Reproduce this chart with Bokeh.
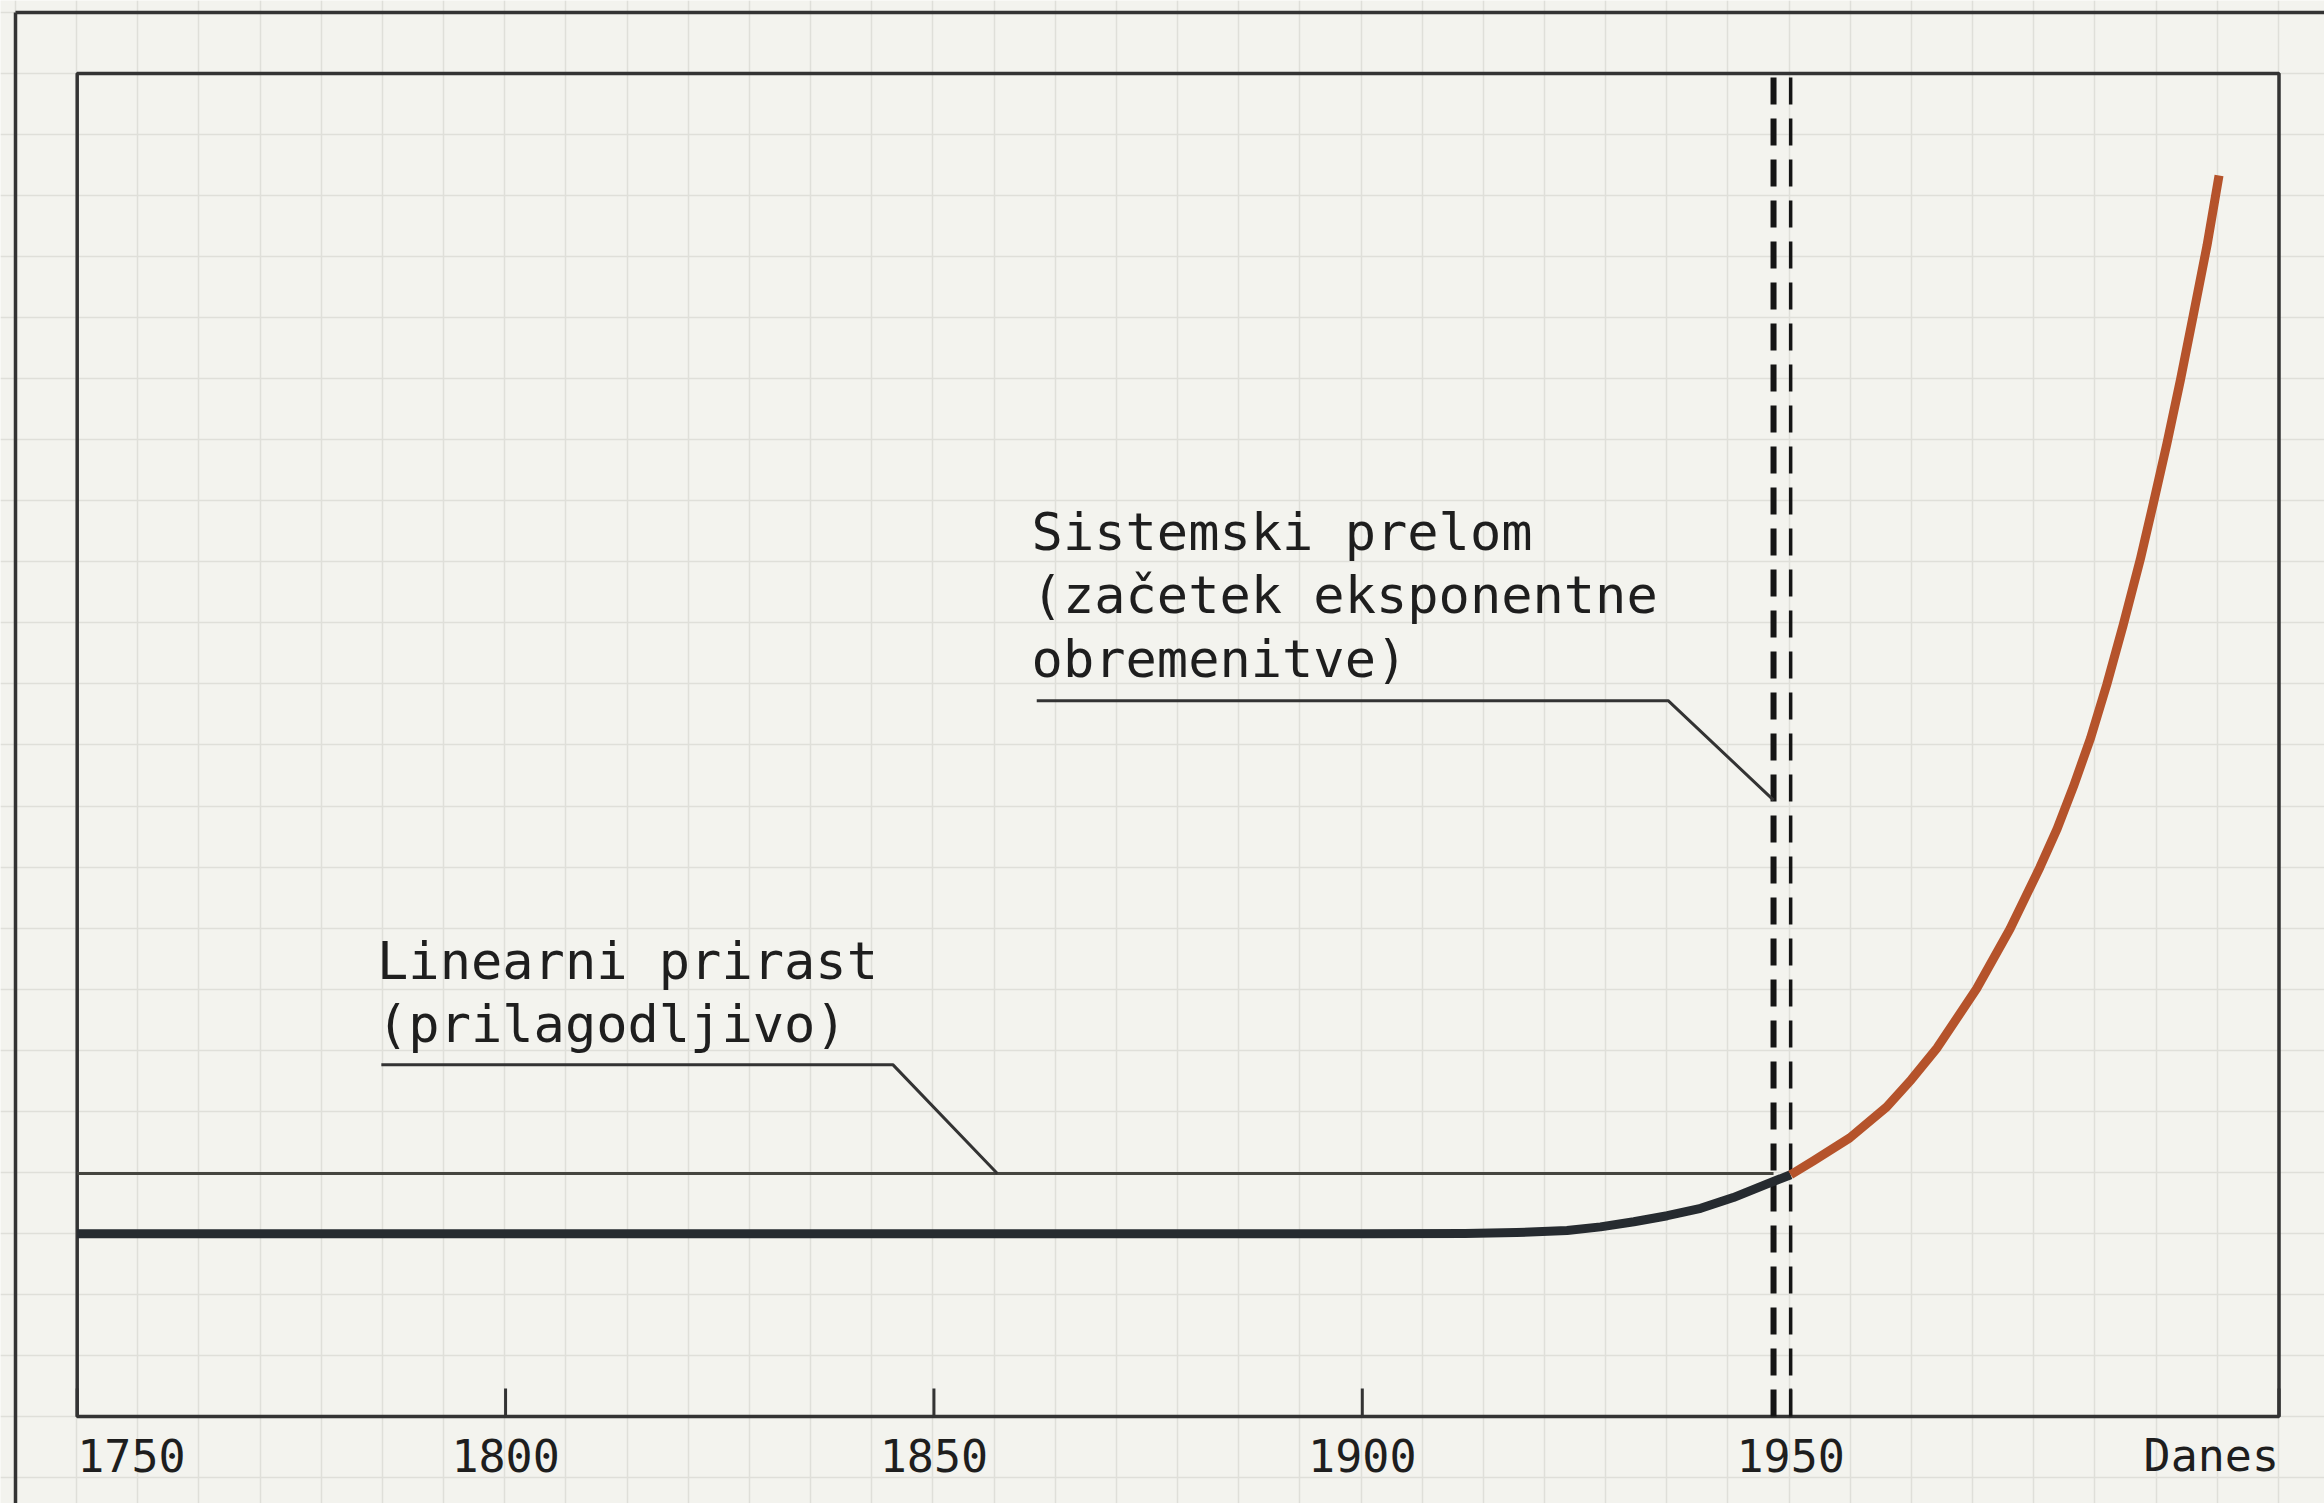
from bokeh.plotting import figure
from bokeh.models import Range1d, Grid, SingleIntervalTicker
from bokeh.embed import file_html
from bokeh.resources import INLINE
from bokeh.core.properties import value

# ---------------- data ----------------
tick_years = [1750, 1800, 1850, 1900, 1950, 2007]
tick_labels = ["1750", "1800", "1850", "1900", "1950", "Danes"]

linear_years = [1750, 1800, 1850, 1900, 1912.0, 1918.0, 1923.9, 1927.8, 1931.7,
                1935.6, 1939.5, 1943.3, 1947.2, 1950.0]
linear_values = [13.6, 13.6, 13.6, 13.6, 13.62, 13.7, 13.85, 14.12, 14.5,
                 14.95, 15.5, 16.3, 17.3, 18.0]

exp_years = [1950.0, 1952.7, 1956.9, 1961.2, 1964.1, 1967.1, 1971.7, 1975.6,
             1979.1, 1981.1, 1983.0, 1985.0, 1986.9, 1988.8, 1990.8, 1992.3,
             1993.9, 1995.5, 1997.0, 1998.6, 2000.0]
exp_values = [18.0, 19.05, 20.75, 23.05, 25.1, 27.45, 31.85, 36.3,
              40.9, 43.75, 46.9, 50.5, 54.5, 58.9, 63.8, 67.9,
              72.4, 77.2, 82.0, 87.2, 92.4]

reference_level = 18.1          # thin horizontal level line
break_years = [1948, 1950]      # thick / thin dashed markers

annot1_lines = ["Linearni prirast", "(prilagodljivo)"]
annot1_x = 1785.0
annot1_y = [33.95, 29.25]
annot1_leader_x = [1785.5, 1845.2, 1857.4]
annot1_leader_y = [26.2, 26.2, 18.1]

annot2_lines = ["Sistemski prelom", "(začetek eksponentne", "obremenitve)"]
annot2_x = 1861.4
annot2_y = [65.85, 61.15, 56.4]
annot2_leader_x = [1862.0, 1935.7, 1948.0]
annot2_leader_y = [53.3, 53.3, 45.9]

y_min, y_max = 0, 100
tick_label_y = -2.9

# ---------------- layout / style ----------------
W, H = 2324, 1503
FRAME_L, FRAME_R = 76.7, 2278.5
FRAME_T, FRAME_B = 73, 1416
X0, X1 = tick_years[0], tick_years[-1]
sx = (FRAME_R - FRAME_L) / (X1 - X0)
sy = (FRAME_B - FRAME_T) / (y_max - y_min)
TICK_LEN = 28 / sy

BG = "#f3f3ee"
GRID = "#dfdfd9"
FRAME = "#333333"
DARK = "#262b30"
ORANGE = "#b5532b"
TEXT = "#1e1e1e"
FONT = value("DejaVu Sans Mono")

p = figure(width=W, height=H,
           x_range=Range1d(X0 - FRAME_L / sx, X1 + (W - FRAME_R) / sx),
           y_range=Range1d(y_min - (H - FRAME_B) / sy, y_max + FRAME_T / sy),
           x_axis_type=None, y_axis_type=None,
           output_backend="svg", toolbar_location=None, min_border=0)
p.background_fill_color = BG
p.border_fill_color = BG
p.outline_line_color = None

# background paper grid (screen-pixel ranges)
CELL_X, CELL_Y = 61.16, 61.04
OUT_L, OUT_T = 15, 12
NY = 25
p.extra_x_ranges = {"px": Range1d(-OUT_L, W - OUT_L)}
p.extra_y_ranges = {"py": Range1d(NY * CELL_Y + OUT_T - H, NY * CELL_Y + OUT_T)}
for dim in (0, 1):
    g = Grid(dimension=dim,
             ticker=SingleIntervalTicker(interval=CELL_X if dim == 0 else CELL_Y, num_minor_ticks=0),
             x_range_name="px", y_range_name="py",
             grid_line_color=GRID, grid_line_width=1.5)
    p.add_layout(g)

# outer page frame (left and top edges)
p.segment(x0=[0, 0], y0=[NY * CELL_Y - H, NY * CELL_Y], x1=[0, W], y1=[NY * CELL_Y, NY * CELL_Y],
          x_range_name="px", y_range_name="py", line_color=FRAME, line_width=3.5)

# inner chart frame
p.quad(left=[X0], right=[X1], bottom=[y_min], top=[y_max],
       fill_color=None, line_color=FRAME, line_width=3.5)

# inward ticks on the time axis
p.segment(x0=tick_years, y0=[y_min] * len(tick_years), x1=tick_years,
          y1=[y_min + TICK_LEN] * len(tick_years), line_color=FRAME, line_width=3)

# tick labels
p.text(x=[tick_years[0]], y=[tick_label_y], text=[tick_labels[0]], text_font=FONT,
       text_font_size="45px", text_align="left", text_baseline="alphabetic", text_color=TEXT)
p.text(x=tick_years[1:-1], y=[tick_label_y] * (len(tick_years) - 2), text=tick_labels[1:-1],
       text_font=FONT, text_font_size="45px", text_align="center",
       text_baseline="alphabetic", text_color=TEXT)
p.text(x=[tick_years[-1]], y=[tick_label_y], text=[tick_labels[-1]], text_font=FONT,
       text_font_size="45px", text_align="right", text_baseline="alphabetic", text_color=TEXT)

# reference level line
p.line(x=[X0, break_years[0]], y=[reference_level, reference_level],
       line_color="#45453f", line_width=3)

# dashed break markers
p.segment(x0=[break_years[0]], y0=[y_min], x1=[break_years[0]], y1=[y_max],
          line_color="#151515", line_width=6, line_dash="27 14")
p.segment(x0=[break_years[1]], y0=[y_min], x1=[break_years[1]], y1=[y_max],
          line_color="#151515", line_width=3.5, line_dash="27 14")

# curves
p.line(x=linear_years, y=linear_values, line_color=DARK, line_width=9, line_join="round")
p.line(x=exp_years, y=exp_values, line_color=ORANGE, line_width=9, line_join="round")

# annotations
p.line(x=annot1_leader_x, y=annot1_leader_y, line_color="#333333", line_width=3)
p.line(x=annot2_leader_x, y=annot2_leader_y, line_color="#333333", line_width=3)
p.text(x=[annot1_x] * len(annot1_lines), y=annot1_y, text=annot1_lines, text_font=FONT,
       text_font_size="52px", text_align="left", text_baseline="alphabetic", text_color=TEXT)
p.text(x=[annot2_x] * len(annot2_lines), y=annot2_y, text=annot2_lines, text_font=FONT,
       text_font_size="52px", text_align="left", text_baseline="alphabetic", text_color=TEXT)

open("out.html", "w").write(file_html(p, INLINE))
